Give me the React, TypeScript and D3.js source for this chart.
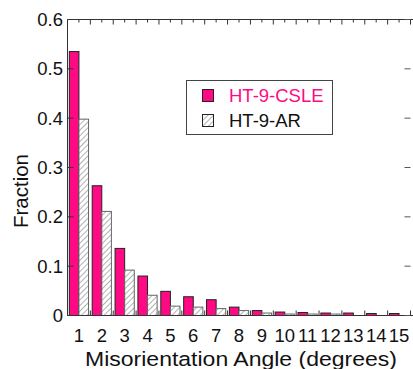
import { useEffect, useRef } from 'react';
import * as d3 from 'd3';

// misorientation angle bins (degrees)
const angles = ['1', '2', '3', '4', '5', '6', '7', '8', '9', '10', '11', '12', '13', '14', '15'];
// fraction per bin
const csle = [0.535, 0.263, 0.136, 0.080, 0.049, 0.038, 0.032, 0.017, 0.010, 0.007, 0.006, 0.005, 0.005, 0.004, 0.004];
const ar   = [0.398, 0.211, 0.092, 0.041, 0.019, 0.017, 0.014, 0.010, 0.005, 0.003, 0.003, 0.003, 0, 0, 0];
const yTicks = [0, 0.1, 0.2, 0.3, 0.4, 0.5, 0.6];
const seriesNames = ['HT-9-CSLE', 'HT-9-AR'];

const PINK = '#ff0a84';

export default function App() {
  const svgRef = useRef<SVGSVGElement>(null);

  useEffect(() => {
    if (!svgRef.current) return;
    const svg = d3.select(svgRef.current);
    svg.selectAll('*').remove();

    const W = 413, H = 369;
    const left = 67.5, right = 410.5, top = 19.5, bottom = 315.5;
    const font = 'Arial, "Liberation Sans", sans-serif';
    const axisCol = '#333';

    svg.attr('width', W).attr('height', H);
    svg.append('rect').attr('width', W).attr('height', H).attr('fill', '#fff');

    // hatch pattern
    const defs = svg.append('defs');
    const pat = defs.append('pattern')
      .attr('id', 'hatch')
      .attr('patternUnits', 'userSpaceOnUse')
      .attr('width', 4).attr('height', 4)
      .attr('patternTransform', 'rotate(45)');
    pat.append('rect').attr('width', 4).attr('height', 4).attr('fill', '#fff');
    pat.append('line').attr('x1', 0).attr('y1', 0).attr('x2', 0).attr('y2', 4)
      .attr('stroke', '#8a8a8a').attr('stroke-width', 1.3);

    // ── Scales ──────────────────────────────────────────────
    const x = d3.scaleBand<string>()
      .domain(angles)
      .range([left, right])
      .paddingInner(0.16)
      .paddingOuter(0.08);

    const xSub = d3.scaleBand<number>()
      .domain([0, 1])
      .range([0, x.bandwidth()]);

    const y = d3.scaleLinear().domain([0, 0.6]).range([bottom, top]);

    const step = x.step();
    const boundaries = d3.range(angles.length + 1).map(i => left + i * step);

    // ── Frame ticks (below bars) ───────────────────────────
    const g = svg.append('g');
    boundaries.forEach(bx => {
      g.append('line').attr('x1', bx).attr('x2', bx).attr('y1', bottom).attr('y2', bottom - 5)
        .attr('stroke', axisCol);
    });

    // ── Bars ────────────────────────────────────────────────
    const rows = angles.map((a, i) => ({ a, v: [csle[i], ar[i]] }));
    rows.forEach(r => {
      r.v.forEach((v, k) => {
        if (v <= 0) return;
        g.append('rect')
          .attr('x', x(r.a)! + xSub(k)!)
          .attr('y', y(v))
          .attr('width', xSub.bandwidth())
          .attr('height', y(0) - y(v))
          .attr('fill', k === 0 ? PINK : 'url(#hatch)')
          .attr('stroke', k === 0 ? '#222' : '#666')
          .attr('stroke-width', 1);
      });
    });

    // ── Axes ────────────────────────────────────────────────
    g.append('line').attr('x1', left).attr('x2', W).attr('y1', top).attr('y2', top).attr('stroke', axisCol);
    g.append('line').attr('x1', left).attr('x2', W).attr('y1', bottom).attr('y2', bottom).attr('stroke', axisCol);
    g.append('line').attr('x1', left).attr('x2', left).attr('y1', top).attr('y2', bottom).attr('stroke', axisCol);

    // top ticks: long at bin boundaries, short at bin centres
    boundaries.forEach(bx => {
      g.append('line').attr('x1', bx).attr('x2', bx).attr('y1', top).attr('y2', top + 5).attr('stroke', axisCol);
    });
    angles.forEach(a => {
      const cx = x(a)! + x.bandwidth() / 2;
      g.append('line').attr('x1', cx).attr('x2', cx).attr('y1', top).attr('y2', top + 3).attr('stroke', axisCol);
    });

    // y ticks on both sides
    yTicks.forEach(t => {
      g.append('line').attr('x1', left).attr('x2', left + 6).attr('y1', y(t)).attr('y2', y(t)).attr('stroke', axisCol);
      g.append('line').attr('x1', right - 6).attr('x2', right).attr('y1', y(t)).attr('y2', y(t)).attr('stroke', '#555');
      g.append('text')
        .attr('x', 63).attr('y', y(t) + 6.5)
        .attr('text-anchor', 'end')
        .attr('font-family', font).attr('font-size', 18.5).attr('fill', '#111')
        .text(d3.format('~g')(t));
    });

    // x tick labels
    angles.forEach(a => {
      g.append('text')
        .attr('x', x(a)! + x.bandwidth() / 2)
        .attr('y', 341.5)
        .attr('text-anchor', 'middle')
        .attr('font-family', font).attr('font-size', 18.5).attr('fill', '#111')
        .text(a);
    });

    // axis titles
    g.append('text')
      .attr('x', 85).attr('y', 365.5)
      .attr('font-family', font).attr('font-size', 20.5).attr('fill', '#111')
      .attr('textLength', 312).attr('lengthAdjust', 'spacingAndGlyphs')
      .text('Misorientation Angle (degrees)');

    g.append('text')
      .attr('transform', 'translate(28,191) rotate(-90)')
      .attr('text-anchor', 'middle')
      .attr('font-family', font).attr('font-size', 20.5).attr('fill', '#111')
      .text('Fraction');

    // ── Legend ───────────────────────────────────────────────
    const leg = svg.append('g');
    leg.append('rect').attr('x', 186.5).attr('y', 80.5).attr('width', 146).attr('height', 54)
      .attr('fill', '#fff').attr('stroke', '#444');
    seriesNames.forEach((name, k) => {
      const yy = 89 + k * 25;
      leg.append('rect').attr('x', 202.5).attr('y', yy + 0.5).attr('width', 11).attr('height', 12)
        .attr('fill', k === 0 ? PINK : 'url(#hatch)').attr('stroke', '#222');
      leg.append('text').attr('x', 229).attr('y', yy + 13)
        .attr('font-family', font).attr('font-size', 18.5)
        .attr('fill', k === 0 ? PINK : '#111')
        .text(name);
    });
  }, []);

  return (
    <div style={{ position: 'absolute', left: 0, top: 0 }}>
      <svg ref={svgRef} style={{ display: 'block' }} />
    </div>
  );
}
